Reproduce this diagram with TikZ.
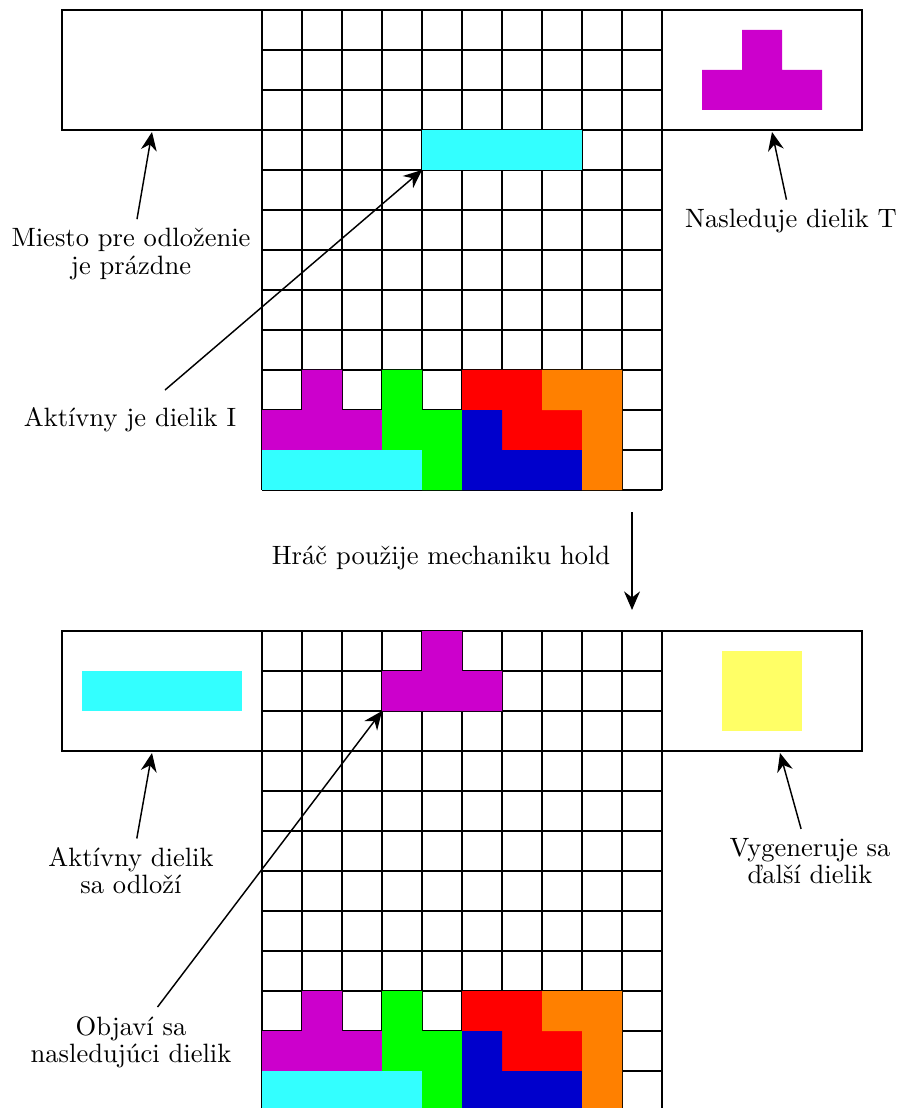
\documentclass[tikz,border=0pt]{standalone}
\usepackage{fontspec}
\usetikzlibrary{arrows.meta}
\definecolor{tcyan}{HTML}{33FFFF}
\definecolor{tmag}{HTML}{CC00CC}
\definecolor{tgreen}{HTML}{00FF00}
\definecolor{tred}{HTML}{FF0000}
\definecolor{tblue}{HTML}{0000CC}
\definecolor{torange}{HTML}{FF8000}
\definecolor{tyellow}{HTML}{FFFF66}
\newcommand{\tetgrid}{%
  \foreach \i in {0,...,10} {\draw[gridline] (\i,0) -- (\i,-12);}
  \foreach \j in {0,...,12} {\draw[gridline] (0,-\j) -- (10,-\j);}
}
\newcommand{\tetstack}{%
  \fill[tmag] (0,-10) -- (1,-10) -- (1,-9) -- (2,-9) -- (2,-10) -- (3,-10) -- (3,-11) -- (0,-11) -- cycle;
  \fill[tgreen] (3,-9) -- (4,-9) -- (4,-10) -- (5,-10) -- (5,-12) -- (4,-12) -- (4,-11) -- (3,-11) -- cycle;
  \fill[tcyan] (0,-11) rectangle (4,-12);
  \fill[tred] (5,-9) -- (7,-9) -- (7,-10) -- (8,-10) -- (8,-11) -- (6,-11) -- (6,-10) -- (5,-10) -- cycle;
  \fill[tblue] (5,-10) -- (6,-10) -- (6,-11) -- (8,-11) -- (8,-12) -- (5,-12) -- cycle;
  \fill[torange] (7,-9) -- (9,-9) -- (9,-12) -- (8,-12) -- (8,-10) -- (7,-10) -- cycle;
}
\begin{document}
\begin{tikzpicture}[x=0.53cm,y=0.53cm,
  gridline/.style={line width=0.6pt},
  boxline/.style={line width=0.6pt},
  arr/.style={line width=0.55pt,-{Stealth[length=7pt,width=6pt]}},
  lbl/.style={align=center,font=\fontsize{10}{10.2}\selectfont}]
\useasboundingbox (0,0) rectangle (22.45,-27.7);

% ---------- top state ----------
\begin{scope}[shift={(6.55,-0.25)}]
  \tetgrid
  \tetstack
  \fill[tcyan] (4,-3) rectangle (8,-4);
  \fill[tmag] (11,-1.5) -- (12,-1.5) -- (12,-0.5) -- (13,-0.5) -- (13,-1.5) -- (14,-1.5) -- (14,-2.5) -- (11,-2.5) -- cycle;
  \draw[boxline] (-5,0) rectangle (0,-3);
  \draw[boxline] (10,0) rectangle (15,-3);
  \coordinate (t1) at (-2.75,-3.05);
  \coordinate (t2) at (4,-4);
  \coordinate (t3) at (12.75,-3.05);
\end{scope}

\node[lbl] (lab1) at (3.275,-6.35) {Miesto pre odloženie\\je prázdne};
\node[lbl,inner ysep=6.5pt] (lab2) at (3.25,-10.5) {Aktívny je dielik I};
\node[lbl] (lab3) at (19.775,-5.525) {Nasleduje dielik T};
\draw[arr] (lab1) -- (t1);
\draw[arr] (lab2) -- (t2);
\draw[arr] (lab3) -- (t3);

% ---------- transition ----------
\coordinate (m1) at (15.8,-12.8);
\coordinate (m2) at (15.8,-15.25);
\draw[arr] (m1) -- (m2);
\node[lbl] (mid) at (11.025,-13.95) {Hráč použije mechaniku hold};

% ---------- bottom state ----------
\begin{scope}[shift={(6.55,-15.775)}]
  \tetgrid
  \tetstack
  \fill[tmag] (3,-1) -- (4,-1) -- (4,0) -- (5,0) -- (5,-1) -- (6,-1) -- (6,-2) -- (3,-2) -- cycle;
  \fill[tcyan] (-4.5,-1) rectangle (-0.5,-2);
  \fill[tyellow] (11.5,-0.5) rectangle (13.5,-2.5);
  \draw[boxline] (-5,0) rectangle (0,-3);
  \draw[boxline] (10,0) rectangle (15,-3);
  \coordinate (b1) at (-2.75,-3.05);
  \coordinate (b2) at (3,-2);
  \coordinate (b3) at (12.95,-3.05);
\end{scope}

\node[lbl] (lab5) at (3.275,-21.775) {Aktívny dielik\\sa odloží};
\node[lbl] (lab6) at (3.275,-26.05) {Objaví sa\\nasledujúci dielik};
\node[lbl] (lab7) at (20.25,-21.525) {Vygeneruje sa\\ďalší dielik};
\draw[arr] (lab5) -- (b1);
\draw[arr] (lab6) -- (b2);
\draw[arr] (lab7) -- (b3);
\end{tikzpicture}
\end{document}
